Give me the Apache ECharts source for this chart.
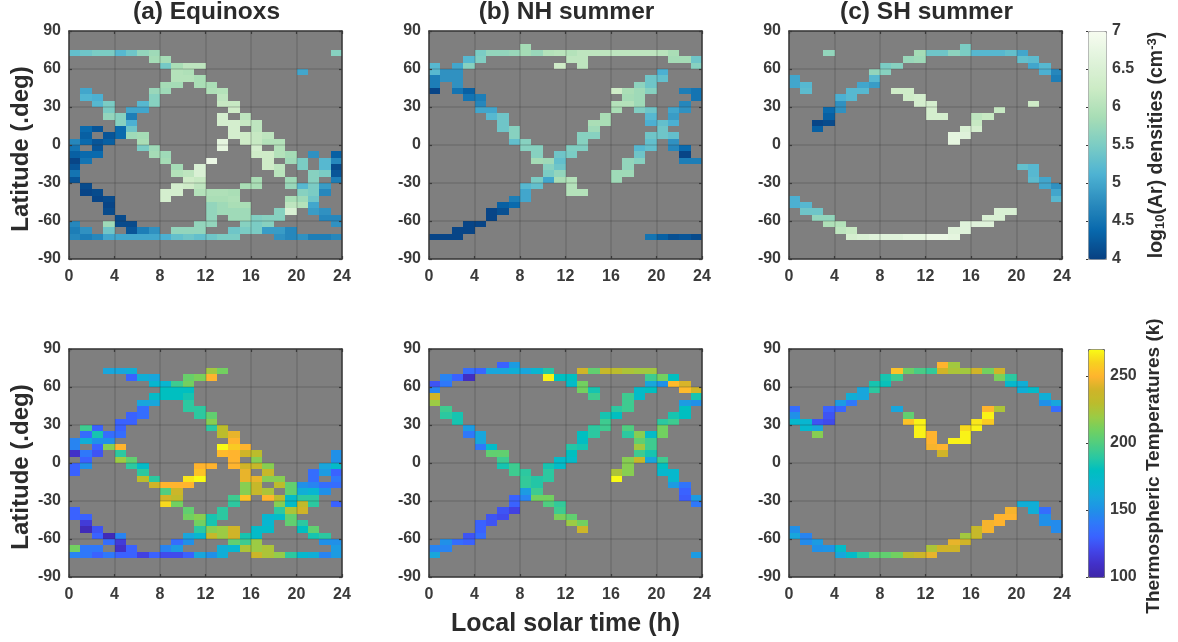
<!DOCTYPE html>
<html><head><meta charset="utf-8">
<style>html,body{margin:0;padding:0;background:#fff}#c{width:1178px;height:642px}</style>
<script src="https://cdn.jsdelivr.net/npm/echarts@6/dist/echarts.min.js"></script>
</head><body><div id="c"></div>
<script>
// Every row: [latitude of cell centre, startHour, value, startHour, value, ...]
const densityEquinox = [
[72.5,0,5.3,1,5.4,2,5.5,3,5.5,4,5.2,5,5.4,6,5.7,7,5.8,23,5.6],
[67.5,7,5.85,8,5.85],
[62.5,8,5.45,9,5.9,10,6.1,11,6.1],
[57.5,9,6.0,10,5.95,20,5.0],
[52.5,9,6.0,10,6.0,11,5.9],
[47.5,8,5.85,9,5.85,11,5.9,12,5.9],
[42.5,1,5.0,7,5.75,8,5.8,12,5.95,13,6.0],
[37.5,1,5.15,2,5.1,7,5.6,13,6.1],
[32.5,2,5.2,3,5.5,6,5.2,7,5.6,13,6.2,14,6.2],
[27.5,3,5.5,5,5.0,6,5.0,14,6.3],
[22.5,3,5.7,4,5.6,5,4.6,13,6.4,15,6.1],
[17.5,4,5.6,5,5.1,13,6.4,14,6.4,15,6.2,16,6.1],
[12.5,1,4.4,2,4.2,4,4.4,5,5.4,14,6.4,16,6.1],
[7.5,1,4.3,3,4.2,4,4.4,5,5.8,6,5.85,14,6.4,15,6.3,16,6.2,17,6.1],
[2.5,0,4.7,1,4.4,2,4.2,3,4.3,6,5.9,13,6.7,15,6.3,16,6.2,17,6.0,18,6.0],
[-2.5,0,4.5,2,4.2,6,5.5,7,5.8,13,6.7,16,6.4,18,6.0],
[-7.5,0,4.3,1,4.4,2,4.4,7,5.85,8,5.8,16,6.3,17,6.3,18,6.0,19,5.85,21,4.8,23,4.3],
[-12.5,0,4.05,1,4.5,8,5.85,12,6.8,17,6.3,19,5.8,20,5.5,22,5.2,23,4.7],
[-17.5,0,4.2,9,5.85,11,6.5,17,6.3,18,6.1,20,5.5,22,5.2,23,4.1],
[-22.5,0,4.5,9,6.0,10,6.1,11,6.5,18,6.05,21,5.6,22,5.5,23,4.2],
[-27.5,0,4.2,10,6.3,11,6.2,16,5.9,19,5.8,21,5.6,23,4.6],
[-32.5,1,4.1,9,6.4,10,6.3,11,6.1,15,5.9,16,5.9,19,5.75,20,5.2,21,5.5,22,4.9],
[-37.5,1,4.05,2,4.1,8,6.4,9,6.4,11,6.0,12,5.95,13,5.95,14,5.9,20,5.6,21,5.5,22,4.7],
[-42.5,2,4.05,3,4.1,8,6.4,12,5.9,13,5.9,14,5.95,19,5.9,20,5.8,21,5.4],
[-47.5,3,4.05,12,5.7,13,5.8,14,5.9,15,5.9,19,6.1,20,6.0,21,5.0],
[-52.5,3,4.1,12,5.7,13,5.8,14,5.8,15,5.8,18,5.6,19,6.5,21,4.9,22,4.8],
[-57.5,4,4.1,12,5.7,14,5.8,15,5.8,16,5.55,17,5.6,18,5.6,22,4.7,23,4.7],
[-62.5,0,4.7,3,5.8,4,4.1,5,4.1,11,5.7,12,5.7,15,5.6,16,5.5,17,5.6,23,4.8],
[-67.5,0,4.6,1,4.8,3,5.4,5,4.2,6,4.6,7,4.8,9,5.7,10,5.7,11,5.7,14,5.4,15,5.5,16,5.5,17,4.9,18,4.9,19,4.7],
[-72.5,0,4.7,1,4.6,2,4.7,3,5.0,4,5.0,5,5.0,6,5.0,7,5.0,8,5.1,9,5.3,10,5.4,11,5.3,12,5.4,13,5.5,14,5.5,18,4.8,19,4.7,20,4.8,21,4.6,22,4.6,23,4.7]
];
const densityNH = [
[77.5,8,5.85],
[72.5,4,5.5,5,5.7,6,5.7,7,5.75,8,5.85,9,5.75,10,6.0,11,6.05,12,6.0,13,6.1,14,6.1,15,6.1,16,6.1,17,6.1,18,6.1,19,6.1,20,6.05,21,5.9],
[67.5,3,5.2,4,5.55,12,6.1,13,6.1,21,5.85,22,5.85,23,5.4],
[62.5,0,5.2,2,5.0,3,5.6,11,6.3,13,6.1,23,5.6],
[57.5,0,5.2,1,4.8,2,4.8,20,5.1],
[52.5,0,4.6,1,4.8,2,4.8,19,5.4,20,5.3],
[47.5,0,4.6,2,4.8,18,5.65,19,5.4],
[42.5,0,4.05,2,4.5,3,4.3,16,6.3,17,5.9,18,5.8,19,5.6,22,4.6,23,4.5],
[37.5,3,4.5,4,4.6,17,5.85,18,5.8,23,4.5],
[32.5,4,4.7,16,6.0,17,6.0,18,5.8,22,4.7],
[27.5,4,5.0,5,5.0,16,5.9,18,5.55,19,5.4,21,5.0,22,4.8],
[22.5,5,5.2,6,5.4,15,5.9,19,5.2,21,4.9],
[17.5,6,5.4,14,5.9,15,5.9,19,5.1,20,5.3,21,5.1],
[12.5,6,5.4,7,5.6,14,5.8,20,5.4],
[7.5,7,5.6,13,5.6,14,5.6,19,5.4,20,5.4,21,5.3],
[2.5,7,5.3,8,5.6,13,5.6,19,5.3,21,4.8],
[-2.5,8,5.6,9,5.6,12,5.55,13,5.55,18,5.2,19,5.3,21,4.7,22,4.4],
[-7.5,9,5.6,11,5.4,12,5.5,18,5.4,22,4.05],
[-12.5,9,5.85,10,5.8,11,5.3,17,5.7,18,5.6,22,4.6,23,4.6],
[-17.5,10,5.6,11,5.4,17,5.7],
[-22.5,10,5.5,11,5.7,16,5.8,17,5.8],
[-27.5,9,5.5,10,5.0,11,5.9,12,6.0,16,5.8],
[-32.5,8,5.2,9,5.3,12,6.0],
[-37.5,8,5.0,12,6.0,13,6.0],
[-42.5,7,4.6,8,5.0],
[-47.5,6,4.3,7,4.4],
[-52.5,5,4.05,6,4.15],
[-57.5,5,4.05],
[-62.5,3,4.05,4,4.05],
[-67.5,2,4.05,3,4.05],
[-72.5,0,4.05,1,4.05,2,4.05,19,4.5,20,4.3,21,4.15,22,4.2,23,4.1]
];
const densitySH = [
[77.5,15,5.5],
[72.5,3,5.7,11,5.85,12,5.4,13,5.4,14,5.65,15,5.5,16,5.2,17,5.2,18,5.2,19,5.3,20,5.0],
[67.5,10,5.75,11,5.8,20,5.3,21,5.25],
[62.5,8,5.5,9,5.6,21,5.0,22,5.2],
[57.5,7,5.7,8,5.6,22,5.1,23,4.7],
[52.5,0,5.0,7,5.2,23,4.6],
[47.5,0,5.0,1,5.2,6,5.0,7,4.9],
[42.5,1,5.25,5,5.2,6,5.2,9,6.3,10,6.3],
[37.5,4,5.1,5,5.2,10,6.3,11,6.4],
[32.5,4,4.8,11,6.4,12,6.4,21,6.3],
[27.5,3,4.4,4,4.8,12,6.4,18,6.2],
[22.5,3,4.3,12,6.4,13,6.4,16,6.1,17,6.2],
[17.5,2,4.05,3,4.1,16,6.2],
[12.5,2,4.3,15,6.5,16,6.4],
[7.5,14,6.7,15,6.6],
[2.5,14,6.7],
[-17.5,20,5.3,21,5.2],
[-22.5,21,5.2],
[-27.5,21,5.25,22,5.0],
[-32.5,22,5.0,23,4.8],
[-37.5,23,5.0],
[-42.5,0,5.1,23,5.2],
[-47.5,0,5.1,1,5.2],
[-52.5,1,5.4,2,5.4,18,6.5,19,6.5],
[-57.5,2,5.7,3,5.7,17,6.5,18,6.5],
[-62.5,3,5.95,4,6.0,15,6.6,16,6.6,17,6.6],
[-67.5,4,6.1,5,6.2,14,6.6,15,6.6],
[-72.5,5,6.4,6,6.5,7,6.6,8,6.6,9,6.6,10,6.7,11,6.7,12,6.8,13,6.8,14,6.7]
];
const tempEquinox = [
[72.5,3,160,4,160,5,165,12,222,13,210],
[67.5,5,130,6,165,7,160,10,207,11,212,12,250],
[62.5,7,170,8,170,9,195,10,210],
[57.5,8,180,9,180,10,180],
[52.5,7,175,8,180,9,180,10,185],
[47.5,6,160,7,160,10,190],
[42.5,6,135,10,190,11,190],
[37.5,5,130,6,135,11,190,12,205],
[32.5,4,130,5,130,12,215],
[27.5,1,195,2,130,4,130,12,190,13,230],
[22.5,1,135,2,185,3,135,4,135,13,230,14,245],
[17.5,0,145,1,165,2,150,3,150,14,250],
[12.5,0,145,2,130,3,215,4,250,13,270,14,258,15,250],
[7.5,0,110,1,140,2,125,4,190,13,252,14,250,15,240,16,230,23,150],
[2.5,1,130,4,220,5,205,14,250,16,215,23,150],
[-2.5,0,130,1,150,5,190,6,175,11,250,12,250,14,250,15,240,16,235,17,215,22,160,23,175],
[-7.5,0,130,6,190,11,255,15,245,17,235,21,135,22,155,23,130],
[-12.5,6,230,7,190,10,265,11,270,15,245,16,245,17,215,18,215,21,135,23,140],
[-17.5,7,240,8,250,9,250,10,250,15,215,16,235,18,230,19,205,20,150,21,145,22,135,23,135],
[-22.5,8,200,9,238,15,215,16,235,17,225,19,205,20,165,21,170,22,150],
[-27.5,8,240,9,232,14,195,15,255,17,250,18,230,19,175,20,190,21,190],
[-32.5,8,262,9,210,14,190,18,215,19,175,20,232,21,190,23,130],
[-37.5,0,130,10,205,13,190,18,190,19,225,20,240],
[-42.5,0,130,1,130,10,210,11,215,12,185,13,190,17,170,18,175,19,205],
[-47.5,1,115,11,210,12,185,17,170,19,205,20,190],
[-52.5,1,105,2,125,11,190,12,215,13,220,14,240,16,175,17,175,20,180,21,205],
[-57.5,2,130,3,105,4,145,10,160,11,170,12,235,13,220,14,240,15,185,16,175,21,185,22,190],
[-62.5,3,135,4,115,9,135,10,150,14,205,15,195,16,220,22,150,23,150],
[-67.5,0,210,1,140,2,140,4,110,5,130,8,145,9,155,13,165,14,170,15,225,16,220,17,225,23,155],
[-72.5,0,145,1,140,2,130,3,140,4,130,5,130,6,118,7,130,8,122,9,122,10,130,11,160,12,150,13,165,16,238,17,225,18,218,19,190,20,172,21,165,22,145,23,155]
];
const tempNH = [
[77.5,6,130,7,155],
[72.5,3,135,4,132,5,160,6,160,7,165,8,160,9,170,10,188,13,240,14,205,15,235,16,230,17,225,18,222,19,222],
[67.5,1,145,2,130,3,108,10,268,11,180,12,180,19,195,20,210,21,180],
[62.5,0,125,1,140,12,175,13,210,19,160,20,150,21,252,22,242],
[57.5,0,145,13,210,14,185,18,175,19,180,22,252,23,240],
[52.5,0,240,14,195,17,195,18,175,23,185],
[47.5,0,220,17,195,22,155,23,150],
[42.5,1,195,16,190,17,195,22,180],
[37.5,1,190,2,185,15,185,16,180,21,185,22,180],
[32.5,2,185,15,195,20,190,21,195],
[27.5,3,155,14,190,15,195,17,200,20,210],
[22.5,3,140,4,160,13,180,14,190,17,190,18,215,19,175,20,210],
[17.5,4,160,13,178,18,205,19,195],
[12.5,4,140,5,175,12,188,13,185,18,222,19,195],
[7.5,5,205,6,205,12,180,18,195,19,185],
[2.5,6,195,11,175,12,175,17,215,18,235,19,160,20,195],
[-2.5,6,185,7,195,10,185,11,175,17,215,20,180],
[-7.5,7,195,8,190,10,190,16,225,17,215,20,172,21,172],
[-12.5,8,192,9,188,10,190,16,270,21,172],
[-17.5,8,192,9,188,21,155,22,138],
[-22.5,8,155,9,195,22,130],
[-27.5,7,130,8,145,9,210,10,210,22,128,23,155],
[-32.5,7,130,10,200,11,192,23,140],
[-37.5,6,125,7,118,11,195],
[-42.5,5,125,6,122,11,212,12,205],
[-47.5,4,130,5,125,12,220,13,210],
[-52.5,4,130,13,238],
[-57.5,3,125,4,135],
[-62.5,1,150,2,135,3,130],
[-67.5,0,145,1,145],
[-72.5,0,160,23,155]
];
const tempSH = [
[77.5,13,250,14,222],
[72.5,9,255,10,208,11,198,12,192,13,240,14,225,15,222,16,240,17,210,18,240],
[67.5,8,185,9,195,18,212,19,190],
[62.5,7,185,8,182,19,172,20,165],
[57.5,6,160,7,190,20,165,21,175],
[52.5,5,165,6,160,22,165],
[47.5,4,155,5,140,22,150,23,160],
[42.5,0,135,3,130,4,132,9,160,17,250,18,225,23,135],
[37.5,0,150,3,125,10,205,17,268],
[32.5,0,172,1,170,2,125,3,122,10,255,11,268,16,265,17,258],
[27.5,1,172,2,160,11,268,15,262,16,268],
[22.5,2,215,11,268,12,250,15,268],
[17.5,12,250,14,268,15,268],
[12.5,12,248,13,250],
[7.5,13,240],
[-32.5,20,165,21,165],
[-37.5,19,248,21,165,22,135],
[-42.5,18,250,19,250,22,150],
[-47.5,17,248,18,250,22,150,23,148],
[-52.5,0,150,16,235,17,248,23,148],
[-57.5,0,160,1,145,15,222,16,235],
[-62.5,1,148,2,155,14,245,15,240],
[-67.5,2,150,3,152,4,175,12,225,13,240,14,240],
[-72.5,4,160,5,175,6,190,7,205,8,205,9,210,10,230,11,238,12,245]
];
const panelTitles = ['(a) Equinoxs','(b) NH summer','(c) SH summer'];
const densityColors = ['#084081','#0868ac','#2b8cbe','#4eb3d3','#7bccc4','#a8ddb5','#ccebc5','#e0f3db','#f7fcf0'];
const tempColors = ['#3e26a8','#4230c8','#4245e8','#3a62ff','#2f78fa','#2090e8','#18a6dc','#08b6d0','#00bfc0','#2cc8a0','#50cd80','#72d060','#9ccb44','#bcbc2c','#d0b428','#ffb42e','#f8d020','#f9fb15'];

const toCells = rows => {
  const out = [];
  rows.forEach(r => { for (let i = 1; i < r.length; i += 2) out.push([r[i], r[0], r[i + 1]]); });
  return out;
};
const panels = [densityEquinox, densityNH, densitySH, tempEquinox, tempNH, tempSH];
const lefts = [69, 429, 789];
const W = 273, H = 228, tops = [31, 349];
const font = 'Liberation Sans';
const dark = '#3a3a3a';

const grid = [], xAxis = [], yAxis = [], series = [];
const label = { fontFamily: font, fontWeight: 'bold', fontSize: 16, color: dark };
const nameStyle = { fontFamily: font, fontWeight: 'bold', fontSize: 24, color: '#2b2b2b' };
panels.forEach((rows, i) => {
  const col = i % 3, row = Math.floor(i / 3);
  grid.push({ left: lefts[col], top: tops[row], width: W, height: H, show: true, backgroundColor: '#7f7f7f', borderWidth: 0 });
  const xBase = { type: 'value', min: 0, max: 24, interval: 4, gridIndex: i, z: 6 };
  const yBase = { type: 'value', min: -90, max: 90, interval: 30, gridIndex: i, z: 6 };
  const line = { show: true, onZero: false, lineStyle: { color: dark, width: 1.5 } };
  const tick = { show: true, inside: true, length: 3, lineStyle: { color: dark, width: 1.2 } };
  xAxis.push(Object.assign({}, xBase, {
    position: 'bottom', axisLine: line, axisTick: tick, axisLabel: Object.assign({ margin: 10, showMinLabel: true, showMaxLabel: true }, label),
    splitLine: { show: true, lineStyle: { color: 'rgba(40,40,40,0.2)', width: 1.5 } },
    name: i === 4 ? 'Local solar time (h)' : '', nameLocation: 'middle', nameGap: 35,
    nameTextStyle: Object.assign({}, nameStyle, { fontSize: 25 })
  }));
  yAxis.push(Object.assign({}, yBase, {
    position: 'left', axisLine: line, axisTick: tick, axisLabel: Object.assign({ margin: 8, padding: [4, 0, 0, 0] }, label),
    splitLine: { show: true, lineStyle: { color: 'rgba(40,40,40,0.2)', width: 1.5 } },
    name: col === 0 ? 'Latitude (.deg)' : '', nameLocation: 'middle', nameGap: 36, nameRotate: 90,
    nameTextStyle: Object.assign({}, nameStyle, { padding: [0, 8, 0, 0] })
  }));
  xAxis.push(Object.assign({}, xBase, { position: 'top', axisLine: line, axisTick: tick, axisLabel: { show: false }, splitLine: { show: false } }));
  yAxis.push(Object.assign({}, yBase, { position: 'right', axisLine: line, axisTick: tick, axisLabel: { show: false }, splitLine: { show: false } }));
  series.push({
    type: 'custom', xAxisIndex: i * 2, yAxisIndex: i * 2, coordinateSystem: 'cartesian2d',
    data: toCells(rows), encode: { x: 0, y: 1 }, silent: true, animation: false, clip: true,
    renderItem: (params, api) => {
      const h = api.value(0), lat = api.value(1);
      const a = api.coord([h, lat + 2.5]), b = api.coord([h + 1, lat - 2.5]);
      const x0 = Math.round(a[0]), y0 = Math.round(a[1]), x1 = Math.round(b[0]), y1 = Math.round(b[1]);
      return { type: 'rect', shape: { x: x0, y: y0, width: x1 - x0, height: y1 - y0 }, style: { fill: api.visual('color') } };
    }
  });
});
// Colour-bar axes
const bars = [
  { top: 31, w: 18, min: 4, max: 7, iv: 0.5, showMax: true, fs: 19.5, pad: 0, name: '{n|log}{s|10}{n|(Ar) densities (cm}{u|-3}{n|)}', gap: 40 },
  { top: 349, w: 16, min: 100, max: 270, iv: 50, showMax: false, fs: 19, pad: 6, name: '{n|Thermospheric Temperatures (k)}', gap: 40 }
];
bars.forEach((b, k) => {
  const gi = 6 + k;
  grid.push({ left: 1088, top: b.top, width: b.w, height: H, show: false });
  xAxis.push({ type: 'value', gridIndex: gi, show: false, min: 0, max: 1 });
  yAxis.push({
    type: 'value', gridIndex: gi, position: 'right', min: b.min, max: b.max, interval: b.iv, z: 6,
    axisLine: { show: false }, axisTick: { show: true, inside: true, length: 2, lineStyle: { color: dark } },
    splitLine: { show: false }, axisLabel: Object.assign({ margin: 6, padding: [5, 0, 0, 0], showMinLabel: true, showMaxLabel: b.showMax }, label),
    name: b.name, nameLocation: 'middle', nameGap: b.gap, nameRotate: 90,
    nameTextStyle: { padding: [0, b.pad, 0, 0], rich: {
      n: { fontFamily: font, fontWeight: 'bold', fontSize: b.fs, color: '#2b2b2b' },
      s: { fontFamily: font, fontWeight: 'bold', fontSize: 13, color: '#2b2b2b', verticalAlign: 'bottom', padding: [8, 0, 0, 0] },
      u: { fontFamily: font, fontWeight: 'bold', fontSize: 13, color: '#2b2b2b', verticalAlign: 'top', padding: [0, 0, 8, 0] }
    } }
  });
});
const option = {
  animation: false,
  backgroundColor: '#ffffff',
  title: panelTitles.map((t, i) => ({
    text: t, left: lefts[i] + W / 2 - 4, top: -5, textAlign: 'center',
    textStyle: { fontFamily: font, fontWeight: 'bold', fontSize: 24.5, color: '#2b2b2b' }
  })),
  grid, xAxis, yAxis, series,
  visualMap: [
    { type: 'continuous', min: 4, max: 7, dimension: 2, seriesIndex: [0, 1, 2], calculable: false, show: true, left: 1088, top: 31,
      itemWidth: 18, itemHeight: H, padding: 0, text: null, showLabel: false, inRange: { color: densityColors }, borderColor: '#999', borderWidth: 1 },
    { type: 'continuous', min: 100, max: 270, dimension: 2, seriesIndex: [3, 4, 5], calculable: false, show: true, left: 1088, top: 349,
      itemWidth: 16, itemHeight: H, padding: 0, text: null, showLabel: false, inRange: { color: tempColors }, borderColor: '#666', borderWidth: 1 }
  ]
};
const chart = echarts.init(document.getElementById('c'), null, { renderer: 'canvas' });
chart.setOption(option);
</script></body></html>
